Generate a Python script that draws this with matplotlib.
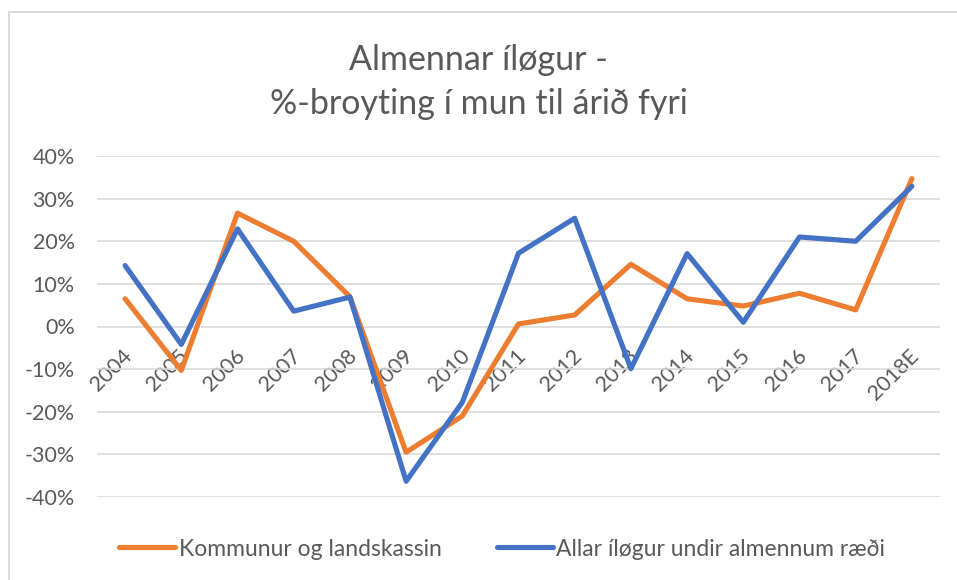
import matplotlib.pyplot as plt
from matplotlib.patches import Rectangle
from matplotlib.ticker import FuncFormatter
from matplotlib.transforms import ScaledTranslation

years = ['2004', '2005', '2006', '2007', '2008', '2009', '2010', '2011',
         '2012', '2013', '2014', '2015', '2016', '2017', '2018E']
kommunur = [6.5, -10.3, 26.6, 20.0, 7.0, -29.5, -21.0, 0.6,
            2.7, 14.6, 6.5, 4.8, 7.8, 3.9, 34.7]
allar = [14.3, -4.2, 22.9, 3.6, 6.9, -36.3, -17.8, 17.2,
         25.4, -9.9, 17.1, 1.0, 21.0, 20.0, 32.9]

plt.rcParams['font.family'] = ['Lato', 'DejaVu Sans']
txt = '#595959'

fig = plt.figure(figsize=(9.57, 5.8), dpi=100)
W, H = 957, 580
ax = fig.add_axes([97 / W, 1 - 497 / H, (940 - 97) / W, (497 - 156) / H])

# chart border
fig.patches.append(Rectangle((9 / W, -0.1), 1.2, 1 - 12 / H + 0.1,
                             transform=fig.transFigure, fill=False,
                             edgecolor='#D9D9D9', linewidth=1.5))

x = list(range(len(years)))
ax.plot(x, [v / 100 for v in kommunur], color='#ED7D31', linewidth=3.7,
        solid_capstyle='round', solid_joinstyle='round', label='Kommunur og landskassin', zorder=3)
ax.plot(x, [v / 100 for v in allar], color='#4472C4', linewidth=3.7,
        solid_capstyle='round', solid_joinstyle='round', label='Allar íløgur undir almennum ræði', zorder=4)

ax.set_xlim(-0.5, len(years) - 0.5)
ax.set_ylim(-0.4, 0.4)
ax.set_yticks([i / 10 for i in range(-4, 5)])
ax.yaxis.set_major_formatter(FuncFormatter(lambda v, p: f'{round(v * 100)}%'))
ax.grid(axis='y', color='#D9D9D9', linewidth=1.2)
ax.set_axisbelow(True)
for s in ax.spines.values():
    s.set_visible(False)
ax.spines['bottom'].set_position(('data', 0))
ax.set_xticks(x)
ax.set_xticklabels(years)
ax.tick_params(axis='both', length=0, labelsize=15.5, labelcolor=txt)
ax.tick_params(axis='y', pad=16)
ax.tick_params(axis='x', pad=19)
shift = ScaledTranslation(4 / 100, 0, fig.dpi_scale_trans)
for lab in ax.get_xticklabels():
    lab.set_rotation(45)
    lab.set_ha('right')
    lab.set_va('center')
    lab.set_rotation_mode('anchor')
    lab.set_transform(lab.get_transform() + shift)

fig.text(0.5, 1 - 60 / H, 'Almennar íløgur -', ha='center', va='center',
         fontsize=24.5, color=txt)
fig.text(0.5, 1 - 104 / H, '%-broyting í mun til árið fyri', ha='center', va='center',
         fontsize=24.5, color=txt)

fig.legend(loc='center', bbox_to_anchor=(502 / W, 1 - 549 / H), ncol=2,
           frameon=False, fontsize=16.5, labelcolor=txt, handlelength=2.45,
           handletextpad=0.15, columnspacing=2.4)

fig.savefig('out.png', dpi=100)
